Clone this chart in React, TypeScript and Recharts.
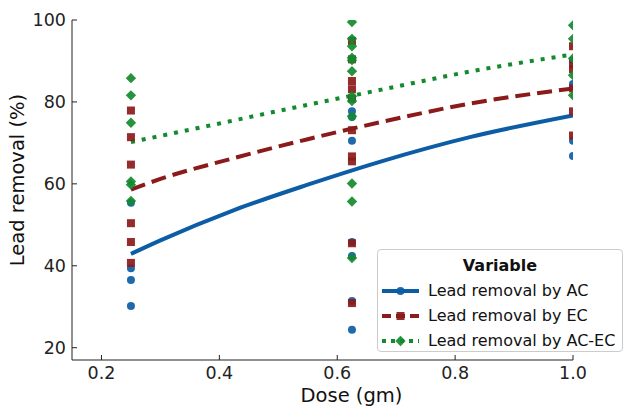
import {
  ComposedChart,
  Scatter,
  Line,
  XAxis,
  YAxis,
  Legend,
} from "recharts"

// dose levels (gm) at which removal was measured
const doses = [0.25, 0.625, 1.0]

// measured lead removal (%) per dose level
const acValues = [
  [30.2, 36.5, 39.4, 55.4],
  [24.4, 31.4, 42.4, 45.8, 70.5, 76.3, 77.7],
  [66.8, 70.5, 84.4, 90.2],
]
const ecValues = [
  [40.7, 45.8, 50.4, 64.7, 71.4, 77.9],
  [30.9, 45.5, 65.5, 66.7, 73.1, 80.8, 83.1, 85.1, 90.4, 94.9],
  [71.8, 77.7, 83.3, 88.0, 89.2, 93.6],
]
const acecValues = [
  [55.8, 59.8, 60.6, 74.9, 81.6, 85.8],
  [41.9, 55.7, 60.1, 76.5, 80.2, 81.4, 87.5, 90.2, 90.8, 93.6, 95.4, 99.5],
  [81.6, 86.5, 90.6, 95.4, 98.7],
]

// fitted trend curves
const fitDoses = [0.25, 0.3, 0.425, 0.55, 0.675, 0.825, 1.0]
const acFit = [42.9, 46.2, 53.6, 59.8, 65.5, 71.4, 76.7]
const ecFit = [58.6, 61.2, 66.3, 70.9, 75.1, 79.6, 83.3]
const acecFit = [70.2, 71.7, 75.5, 79.3, 83.0, 87.4, 91.6]

const xTicks = [0.2, 0.4, 0.6, 0.8, 1.0]
const yTicks = [20, 40, 60, 80, 100]

const BLUE = "#0C5DA5"
const RED = "#8B1A1A"
const GREEN = "#138A2E"
const FONT = "DejaVu Sans, sans-serif"

const toPoints = (groups: number[][]) =>
  groups.flatMap((vals, i) => vals.map((value) => ({ dose: doses[i], value })))

const toCurve = (vals: number[]) =>
  vals.map((value, i) => ({ dose: fitDoses[i], value }))

const series = [
  { name: "Lead removal by AC", color: BLUE, marker: "circle", dash: undefined, legendDash: undefined },
  { name: "Lead removal by EC", color: RED, marker: "square", dash: "15 7", legendDash: "9 5" },
  { name: "Lead removal by AC-EC", color: GREEN, marker: "diamond", dash: "4 7", legendDash: "4 5" },
]

function Marker({ kind, cx, cy, color }: { kind: string; cx: number; cy: number; color: string }) {
  if (kind === "circle") return <circle cx={cx} cy={cy} r={4} fill={color} fillOpacity={0.92} />
  if (kind === "square")
    return <rect x={cx - 4} y={cy - 4} width={8} height={8} fill={color} fillOpacity={0.92} />
  return (
    <polygon
      points={`${cx},${cy - 5.2} ${cx + 5.2},${cy} ${cx},${cy + 5.2} ${cx - 5.2},${cy}`}
      fill={color}
      fillOpacity={0.92}
    />
  )
}

function LegendBox() {
  return (
    <div
      style={{
        width: 244,
        height: 101,
        border: "1px solid #cccccc",
        borderRadius: 4,
        background: "rgba(255,255,255,0.85)",
        fontFamily: FONT,
        fontSize: 16,
        color: "#111",
        boxSizing: "content-box",
      }}
    >
      <div style={{ textAlign: "center", fontWeight: "bold", marginTop: 4, height: 24, lineHeight: "24px" }}>
        Variable
      </div>
      {series.map((s) => (
        <div key={s.name} style={{ display: "flex", alignItems: "center", height: 25 }}>
          <svg width={52} height={20} style={{ marginLeft: 3 }}>
            <line
              x1={1}
              x2={38}
              y1={10}
              y2={10}
              stroke={s.color}
              strokeWidth={4}
              strokeDasharray={s.legendDash}
            />
            <Marker kind={s.marker} cx={19.5} cy={10} color={s.color} />
          </svg>
          <span style={{ whiteSpace: "nowrap", marginLeft: -5 }}>{s.name}</span>
        </div>
      ))}
    </div>
  )
}

export default function App() {
  const pointSets = [toPoints(acValues), toPoints(ecValues), toPoints(acecValues)]
  const curves = [toCurve(acFit), toCurve(ecFit), toCurve(acecFit)]

  return (
    <div style={{ position: "absolute", left: 0, top: 0, width: 624, height: 411, background: "#fff" }}>
      <ComposedChart width={624} height={411} margin={{ top: 20, right: 51, bottom: 0, left: 0 }}>
        <XAxis
          dataKey="dose"
          type="number"
          domain={[0.15, 1.0]}
          ticks={xTicks}
          allowDataOverflow
          height={51}
          tickSize={-5}
          tickMargin={12}
          tickFormatter={(v: number) => v.toFixed(1)}
          stroke="#222"
          tick={{ fill: "#222", fontSize: 17.5, fontFamily: FONT }}
          label={{
            content: ({ viewBox }: any) => (
              <text
                x={viewBox.x + viewBox.width / 2 + 29}
                y={395}
                textAnchor="middle"
                dominantBaseline="central"
                fontSize={19.5}
                fontFamily={FONT}
                fill="#111"
              >
                Dose (gm)
              </text>
            ),
          }}
        />
        <YAxis
          type="number"
          domain={[17, 100]}
          ticks={yTicks}
          allowDataOverflow
          width={72}
          tickSize={-5}
          tickMargin={11}
          stroke="#222"
          tick={{ fill: "#222", fontSize: 17.5, fontFamily: FONT }}
          label={{
            content: () => (
              <text
                x={17.5}
                y={180}
                transform="rotate(-90 17.5 180)"
                textAnchor="middle"
                dominantBaseline="central"
                fontSize={19.5}
                fontFamily={FONT}
                fill="#111"
              >
                Lead removal (%)
              </text>
            ),
          }}
        />
        {series.map((s, i) => (
          <Scatter
            key={`pts-${s.name}`}
            data={pointSets[i]}
            dataKey="value"
            isAnimationActive={false}
            shape={(p: any) => <Marker kind={s.marker} cx={p.cx} cy={p.cy} color={s.color} />}
          />
        ))}
        {series.map((s, i) => (
          <Line
            key={`fit-${s.name}`}
            data={curves[i]}
            dataKey="value"
            type="monotone"
            stroke={s.color}
            strokeWidth={4}
            strokeDasharray={s.dash}
            dot={false}
            activeDot={false}
            isAnimationActive={false}
          />
        ))}
        <Legend
          layout="horizontal"
          verticalAlign="middle"
          align="center"
          wrapperStyle={{ left: 377, top: 249, width: 246, height: 103 }}
          content={() => <LegendBox />}
        />
      </ComposedChart>
    </div>
  )
}
